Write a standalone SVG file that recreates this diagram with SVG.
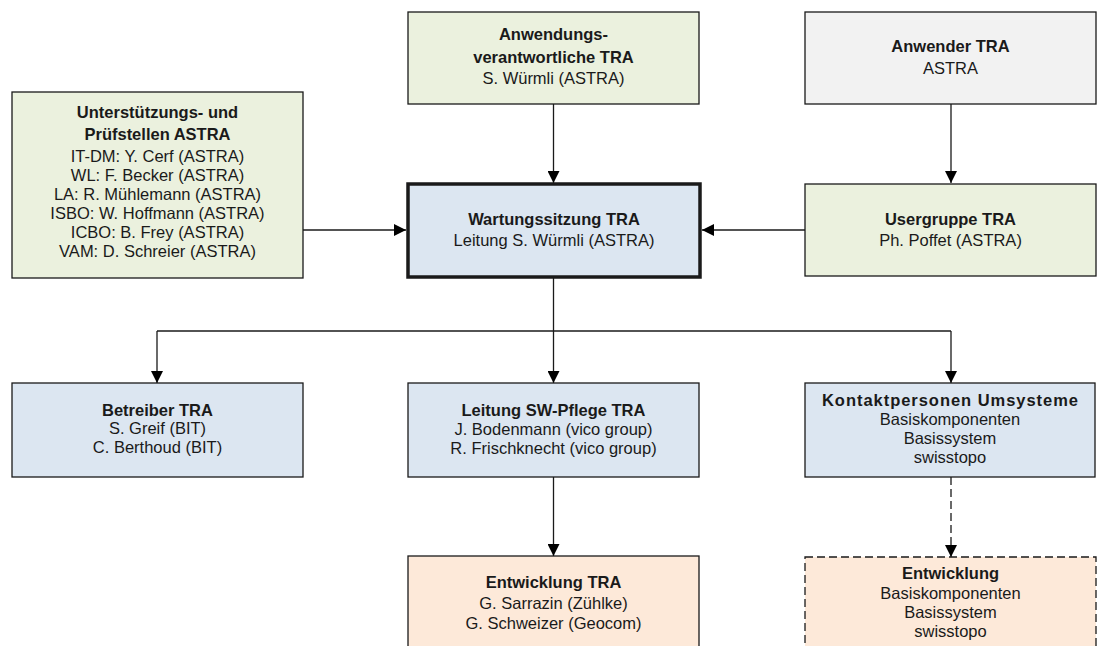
<svg xmlns="http://www.w3.org/2000/svg" width="1101" height="646" viewBox="0 0 1101 646">
<style>
.box{stroke:#1a1a1a;stroke-width:1.3}
.green{fill:#EBF1DE}
.grey{fill:#F2F2F2}
.blue{fill:#DCE6F1}
.peach{fill:#FDE9D9}
.thick{stroke-width:3.5}
.dash{stroke-dasharray:8 4}
text{font-family:"Liberation Sans",Arial,sans-serif;font-size:16.5px;fill:#1a1a1a;text-anchor:middle}
.t{font-weight:bold}
.c{fill:none;stroke:#1a1a1a;stroke-width:1.3}
</style>
<defs>
<marker id="ah" markerUnits="userSpaceOnUse" markerWidth="12" markerHeight="12" viewBox="0 0 12 12" refX="12" refY="6" orient="auto">
<path d="M0,0 L12,6 L0,12 Z" fill="#000"/>
</marker>
</defs>
<rect width="1101" height="646" fill="#fff"/>
<g id="connectors">
<line class="c" x1="553.5" y1="104" x2="553.5" y2="183" marker-end="url(#ah)"/>
<line class="c" x1="951" y1="104" x2="951" y2="183" marker-end="url(#ah)"/>
<line class="c" x1="805" y1="230" x2="702" y2="230" marker-end="url(#ah)"/>
<line class="c" x1="303" y1="230" x2="406" y2="230" marker-end="url(#ah)"/>
<polyline class="c" points="553.5,278 553.5,331"/>
<polyline class="c" points="157,331 951,331"/>
<line class="c" x1="157" y1="331" x2="157" y2="383" marker-end="url(#ah)"/>
<line class="c" x1="553.5" y1="331" x2="553.5" y2="383" marker-end="url(#ah)"/>
<line class="c" x1="951" y1="331" x2="951" y2="383" marker-end="url(#ah)"/>
<line class="c" x1="553.5" y1="477" x2="553.5" y2="556" marker-end="url(#ah)"/>
<line class="c dash" x1="951" y1="477" x2="951" y2="557" marker-end="url(#ah)"/>
</g>
<g id="n-unterstuetzung">
<rect class="box green" x="12" y="92" width="291" height="186"/>
<text class="t" x="157.5" y="118">Unterstützungs- und</text>
<text class="t" x="157.5" y="140">Prüfstellen ASTRA</text>
<text x="157.5" y="162">IT-DM: Y. Cerf (ASTRA)</text>
<text x="157.5" y="181">WL: F. Becker (ASTRA)</text>
<text x="157.5" y="200">LA: R. Mühlemann (ASTRA)</text>
<text x="157.5" y="219">ISBO: W. Hoffmann (ASTRA)</text>
<text x="157.5" y="238">ICBO: B. Frey (ASTRA)</text>
<text x="157.5" y="257">VAM: D. Schreier (ASTRA)</text>
</g>
<g id="n-anwendungsverantwortliche">
<rect class="box green" x="408" y="12" width="291" height="92"/>
<text class="t" x="553.5" y="40">Anwendungs-</text>
<text class="t" x="553.5" y="63">verantwortliche TRA</text>
<text x="553.5" y="84">S. Würmli (ASTRA)</text>
</g>
<g id="n-anwender">
<rect class="box grey" x="805" y="12" width="291" height="92"/>
<text class="t" x="950.5" y="52">Anwender TRA</text>
<text x="950.5" y="74">ASTRA</text>
</g>
<g id="n-wartungssitzung">
<rect class="box blue thick" x="408" y="184" width="292" height="93"/>
<text class="t" x="554" y="225">Wartungssitzung TRA</text>
<text x="554" y="246">Leitung S. Würmli (ASTRA)</text>
</g>
<g id="n-usergruppe">
<rect class="box green" x="805" y="184" width="291" height="92"/>
<text class="t" x="950.5" y="225">Usergruppe TRA</text>
<text x="950.5" y="246">Ph. Poffet (ASTRA)</text>
</g>
<g id="n-betreiber">
<rect class="box blue" x="12" y="383" width="291" height="94"/>
<text class="t" x="157.5" y="416">Betreiber TRA</text>
<text x="157.5" y="434">S. Greif (BIT)</text>
<text x="157.5" y="453">C. Berthoud (BIT)</text>
</g>
<g id="n-leitung-sw">
<rect class="box blue" x="408" y="383" width="291" height="94"/>
<text class="t" x="553.5" y="416">Leitung SW-Pflege TRA</text>
<text x="553.5" y="435">J. Bodenmann (vico group)</text>
<text x="553.5" y="454">R. Frischknecht (vico group)</text>
</g>
<g id="n-kontaktpersonen">
<rect class="box blue" x="805" y="383" width="290" height="94"/>
<text class="t" x="950" y="406" textLength="256" lengthAdjust="spacing">Kontaktpersonen Umsysteme</text>
<text x="950" y="425">Basiskomponenten</text>
<text x="950" y="444">Basissystem</text>
<text x="950" y="463">swisstopo</text>
</g>
<g id="n-entwicklung-tra">
<rect class="box peach" x="408" y="556" width="291" height="100"/>
<text class="t" x="553.5" y="588">Entwicklung TRA</text>
<text x="553.5" y="609">G. Sarrazin (Zühlke)</text>
<text x="553.5" y="629">G. Schweizer (Geocom)</text>
</g>
<g id="n-entwicklung">
<rect class="box peach dash" x="805" y="557" width="291" height="100"/>
<text class="t" x="950.5" y="579">Entwicklung</text>
<text x="950.5" y="599">Basiskomponenten</text>
<text x="950.5" y="618">Basissystem</text>
<text x="950.5" y="637">swisstopo</text>
</g>
</svg>
